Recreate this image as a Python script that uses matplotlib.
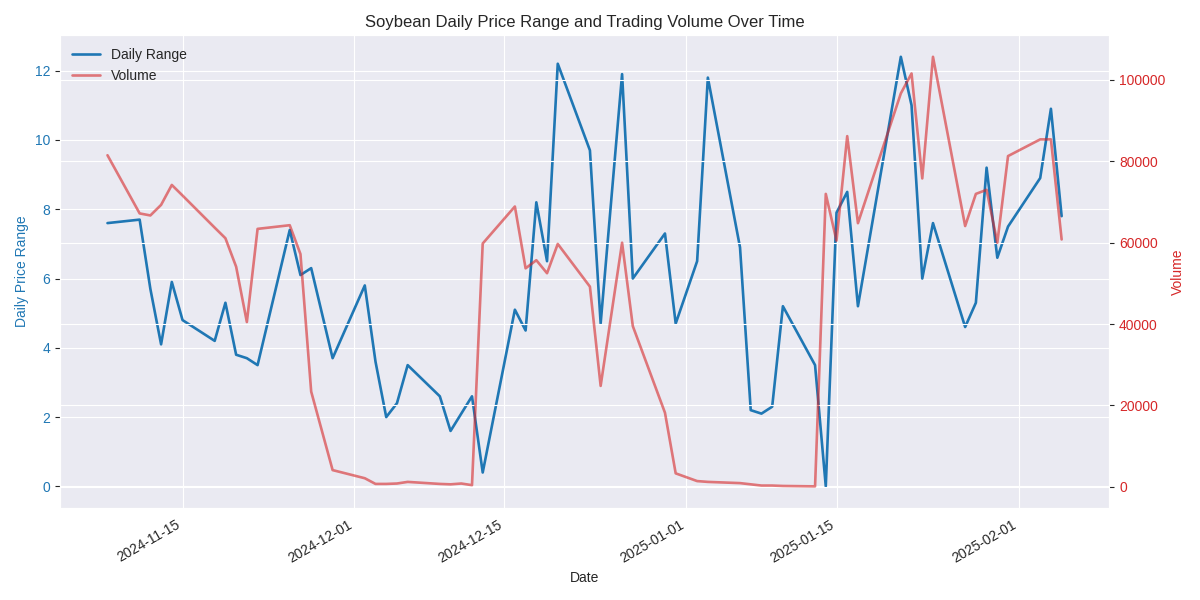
import matplotlib

matplotlib.use("Agg")

import matplotlib.pyplot as plt
import pandas as pd
import seaborn as sns


DATES = [
    "2024-11-08", "2024-11-11", "2024-11-12", "2024-11-13", "2024-11-14",
    "2024-11-15", "2024-11-18", "2024-11-19", "2024-11-20", "2024-11-21",
    "2024-11-22", "2024-11-25", "2024-11-26", "2024-11-27", "2024-11-29",
    "2024-12-02", "2024-12-03", "2024-12-04", "2024-12-05", "2024-12-06",
    "2024-12-09", "2024-12-10", "2024-12-11", "2024-12-12", "2024-12-13",
    "2024-12-16", "2024-12-17", "2024-12-18", "2024-12-19", "2024-12-20",
    "2024-12-23", "2024-12-24", "2024-12-26", "2024-12-27", "2024-12-30",
    "2024-12-31", "2025-01-02", "2025-01-03", "2025-01-06", "2025-01-07",
    "2025-01-08", "2025-01-09", "2025-01-10", "2025-01-13", "2025-01-14",
    "2025-01-15", "2025-01-16", "2025-01-17", "2025-01-21", "2025-01-22",
    "2025-01-23", "2025-01-24", "2025-01-27", "2025-01-28", "2025-01-29",
    "2025-01-30", "2025-01-31", "2025-02-03", "2025-02-04", "2025-02-05",
]

DAILY_RANGE = [
    7.6, 7.7, 5.7, 4.1, 5.9,
    4.8, 4.2, 5.3, 3.8, 3.7,
    3.5, 7.4, 6.1, 6.3, 3.7,
    5.8, 3.6, 2.0, 2.4, 3.5,
    2.6, 1.6, 2.1, 2.6, 0.4,
    5.1, 4.5, 8.2, 6.5, 12.2,
    9.7, 4.7, 11.9, 6.0, 7.3,
    4.7, 6.5, 11.8, 6.9, 2.2,
    2.1, 2.3, 5.2, 3.5, 0.0,
    7.9, 8.5, 5.2, 12.4, 11.0,
    6.0, 7.6, 4.6, 5.3, 9.2,
    6.6, 7.5, 8.9, 10.9, 7.8,
]

VOLUME = [
    81500, 67200, 66700, 69300, 74200,
    71600, 63700, 61100, 54100, 40500,
    63400, 64300, 57200, 23400, 4100,
    2100, 700, 700, 800, 1200,
    700, 600, 800, 400, 59800,
    68900, 53700, 55700, 52500, 59700,
    49200, 24800, 60000, 39500, 18200,
    3300, 1400, 1200, 900, 600,
    300, 300, 200, 100, 72000,
    60500, 86200, 64800, 96700, 101600,
    75800, 105700, 64100, 72000, 73000,
    60000, 81300, 85400, 85400, 60800,
]


def main() -> None:
    sns.set_style("darkgrid")
    plt.rcParams["font.family"] = ["Liberation Sans", "DejaVu Sans"]
    dates = pd.to_datetime(DATES)

    fig, ax1 = plt.subplots(figsize=(12, 6), dpi=100)
    line1, = ax1.plot(dates, DAILY_RANGE, color="tab:blue", linewidth=1.9, label="Daily Range")
    ax1.set_xlabel("Date")
    ax1.set_ylabel("Daily Price Range", color="tab:blue")
    ax1.tick_params(axis="y", labelcolor="tab:blue")

    ax2 = ax1.twinx()
    line2, = ax2.plot(dates, VOLUME, color="tab:red", alpha=0.6, linewidth=1.9, label="Volume")
    ax2.set_ylabel("Volume", color="tab:red")
    ax2.tick_params(axis="y", labelcolor="tab:red")

    ax1.legend([line1, line2], ["Daily Range", "Volume"], loc="upper left", frameon=False)
    plt.title("Soybean Daily Price Range and Trading Volume Over Time")
    fig.autofmt_xdate()
    fig.tight_layout()
    fig.savefig("out.png", dpi=100)
    plt.close(fig)


if __name__ == "__main__":
    main()
